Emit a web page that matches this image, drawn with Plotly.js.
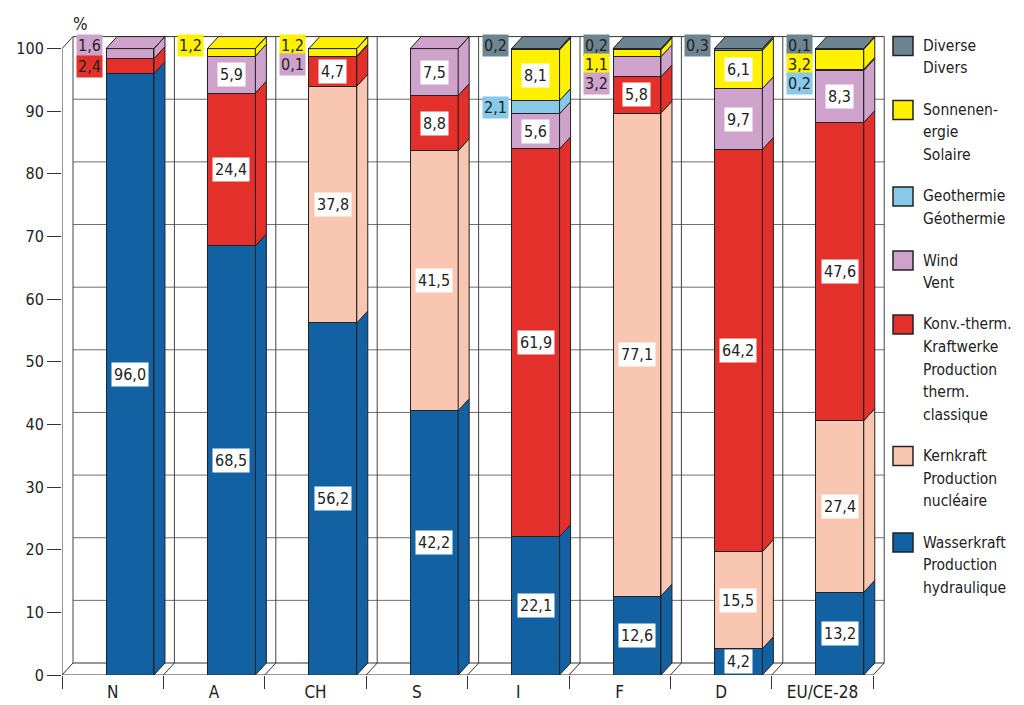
<!DOCTYPE html>
<html><head><meta charset="utf-8">
<script src="https://cdn.plot.ly/plotly-3.0.1.min.js"></script>
<style>body{margin:0;background:#fff}#chart{width:1024px;height:705px}</style>
</head><body><div id="chart"></div>
<script>
// ---- data ----
const categories = ["N", "A", "CH", "S", "I", "F", "D", "EU/CE-28"];
const hydro   = [96.0, 68.5, 56.2, 42.2, 22.1, 12.6, 4.2, 13.2];
const nuclear = [0, 0, 37.8, 41.5, 0, 77.1, 15.5, 27.4];
const thermal = [2.4, 24.4, 4.7, 8.8, 61.9, 5.8, 64.2, 47.6];
const wind    = [1.6, 5.9, 0.1, 7.5, 5.6, 3.2, 9.7, 8.3];
const geo     = [0, 0, 0, 0, 2.1, 0, 0, 0.2];
const solar   = [0, 1.2, 1.2, 0, 8.1, 1.1, 6.1, 3.2];
const diverse = [0, 0, 0, 0, 0.2, 0.2, 0.3, 0.1];
const yTicks = [0, 10, 20, 30, 40, 50, 60, 70, 80, 90, 100];
const hydroLabel   = ["Wasserkraft", "Production", "hydraulique"];
const nuclearLabel = ["Kernkraft", "Production", "nucléaire"];
const thermalLabel = ["Konv.-therm.", "Kraftwerke", "Production", "therm.", "classique"];
const windLabel    = ["Wind", "Vent"];
const geoLabel     = ["Geothermie", "Géothermie"];
const solarLabel   = ["Sonnenen-", "ergie", "Solaire"];
const diverseLabel = ["Diverse", "Divers"];
const unitLabel = "%";

// ---- styling / geometry ----
const FONT = "DejaVu Sans Condensed, Liberation Sans Narrow, sans-serif";
const W = 1024, H = 705, ML = 62, MR = 134, MT = 30, MB = 30;
const plotW = W - ML - MR, plotH = H - MT - MB;
const pxX = 101.4, pxY = 6.264;
const xMax = plotW / pxX, yMax = plotH / pxY;
const dxU = 11 / pxX, dyU = 12 / pxY;
const barOff = 0.434, barW = 0.473;
const EDGE = "#222";

const series = [
  {name: "Wasserkraft", v: hydro, color: "#1262a3", lab: hydroLabel},
  {name: "Kernkraft", v: nuclear, color: "#f8c6b1", lab: nuclearLabel},
  {name: "Konv.-therm. Kraftwerke", v: thermal, color: "#e3302a", lab: thermalLabel},
  {name: "Wind", v: wind, color: "#cfa2cb", lab: windLabel},
  {name: "Geothermie", v: geo, color: "#88c8e8", lab: geoLabel},
  {name: "Sonnenenergie", v: solar, color: "#fff100", lab: solarLabel},
  {name: "Diverse", v: diverse, color: "#6d8590", lab: diverseLabel}
];

const nCat = categories.length;
const xl = categories.map((_, i) => i + barOff);
const xr = xl.map(x => x + barW);
const xc = xl.map(x => x + barW / 2);

// cumulative bases
const bases = series.map(() => new Array(nCat).fill(0));
for (let i = 0; i < nCat; i++) {
  let acc = 0;
  series.forEach((s, k) => { bases[k][i] = acc; acc += s.v[i]; });
}
const topIdx = categories.map((_, i) => { let t = 0; series.forEach((s, k) => { if (s.v[i] > 0) t = k; }); return t; });

const fmt = v => v.toFixed(1).replace(".", ",");

const traces = [];
series.forEach((s) => {
  traces.push({
    type: "bar", name: s.name, x: xc, y: s.v.map(v => v > 0 ? v : null),
    width: barW, marker: {color: s.color, line: {color: EDGE, width: 1}},
    showlegend: false, hoverinfo: "skip"
  });
});
series.forEach((s, k) => {
  const px = [], py = [];
  for (let i = 0; i < nCat; i++) {
    const v = s.v[i]; if (!(v > 0)) continue;
    const b = bases[k][i], t = b + v;
    px.push(xr[i], xr[i] + dxU, xr[i] + dxU, xr[i], xr[i], null);
    py.push(b, b + dyU, t + dyU, t, b, null);
    if (topIdx[i] === k) {
      px.push(xl[i], xl[i] + dxU, xr[i] + dxU, xr[i], xl[i], null);
      py.push(t, t + dyU, t + dyU, t, t, null);
    }
  }
  traces.push({
    type: "scatter", mode: "lines", x: px, y: py, fill: "toself",
    fillcolor: s.color, line: {color: EDGE, width: 1}, connectgaps: false,
    showlegend: false, hoverinfo: "skip"
  });
});

// ---- shapes: back wall, floor, frame ----
const shapes = [];
const ln = (x0, y0, x1, y1, color, layer) => shapes.push({type: "line", xref: "x", yref: "y", x0, y0, x1, y1, layer: layer || "below", line: {color, width: 1}});
yTicks.forEach(t => {
  const c = (t === 0 || t === 100) ? "#333" : "#6e6e6e";
  ln(dxU, t + dyU, nCat + dxU, t + dyU, c);
});
for (let k = 0; k <= nCat; k++) {
  ln(k + dxU, dyU, k + dxU, yTicks[yTicks.length - 1] + dyU, "#444");
  ln(k, 0, k + dxU, dyU, "#333");
}
ln(0, 0, 0, 100, "#333", "above");
ln(0, 100, dxU, 100 + dyU, "#333", "above");
ln(0, 0, nCat, 0, "#333", "above");

// ---- annotations ----
const pX = px => (px - ML) / plotW, pY = py => (H - MB - py) / plotH;
const annotations = [];
for (let i = 0; i < nCat; i++) {
  const outside = [];
  series.forEach((s, k) => {
    const v = s.v[i]; if (!(v > 0)) return;
    const mid = bases[k][i] + v / 2;
    if (v >= 4) {
      annotations.push({x: xc[i], y: mid, xref: "x", yref: "y", text: fmt(v), showarrow: false,
        bgcolor: "#fff", borderpad: 2, font: {family: FONT, size: 16, color: "#222"}});
    } else outside.push({k, v, mid});
  });
  outside.reverse().forEach((o, j) => {
    const slot = 100.5 - 3.0 * j;
    const y = j === 0 ? slot : Math.min(slot, o.mid);
    annotations.push({x: xl[i] - 0.03, y, xref: "x", yref: "y", xanchor: "right", text: fmt(o.v),
      showarrow: false, bgcolor: series[o.k].color, borderpad: 1,
      font: {family: FONT, size: 16, color: "#222"}});
  });
}
annotations.push({x: pX(80), y: pY(24), xref: "paper", yref: "paper", text: unitLabel, showarrow: false,
  xanchor: "center", yanchor: "middle", font: {family: FONT, size: 17, color: "#222"}});

// legend (manual)
let ly = 46;
series.slice().reverse().forEach(s => {
  shapes.push({type: "rect", xref: "paper", yref: "paper", x0: pX(893), x1: pX(913), y0: pY(ly - 9.5), y1: pY(ly + 9.5),
    fillcolor: s.color, line: {color: EDGE, width: 1.5}, layer: "above"});
  s.lab.forEach((t, j) => {
    annotations.push({x: pX(921), y: pY(ly + 22.5 * j), xref: "paper", yref: "paper", xanchor: "left", yanchor: "middle",
      text: t, showarrow: false, font: {family: FONT, size: 15.5, color: "#222"}});
  });
  ly += s.lab.length * 22.5 + 19;
});

const layout = {
  width: W, height: H, margin: {l: ML, r: MR, t: MT, b: MB},
  paper_bgcolor: "#fff", plot_bgcolor: "rgba(0,0,0,0)",
  barmode: "stack", showlegend: false,
  font: {family: FONT, size: 16, color: "#222"},
  xaxis: {range: [0, xMax], tickmode: "array", tickvals: categories.map((_, i) => i + 0.5), ticktext: categories,
    ticks: "outside", ticklen: 2, tickcolor: "rgba(0,0,0,0)", showgrid: false, zeroline: false, showline: false,
    tickfont: {family: FONT, size: 17, color: "#222"},
    minor: {tickmode: "array", tickvals: categories.map((_, i) => i).concat([nCat]), ticks: "outside", ticklen: 13, tickcolor: "#333", tickwidth: 1, showgrid: false},
    fixedrange: true},
  yaxis: {range: [0, yMax], tickmode: "array", tickvals: yTicks, ticks: "outside", ticklen: 14, tickcolor: "#333",
    showgrid: false, zeroline: false, showline: false, tickfont: {family: FONT, size: 16, color: "#222"}, fixedrange: true},
  shapes, annotations
};
Plotly.newPlot("chart", traces, layout, {displayModeBar: false, staticPlot: true});
</script></body></html>
